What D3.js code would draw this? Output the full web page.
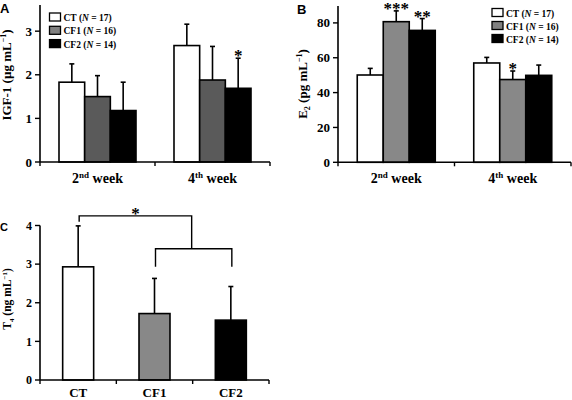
<!DOCTYPE html>
<html><head><meta charset="utf-8">
<script src="https://cdn.jsdelivr.net/npm/d3@7"></script>
<style>body{margin:0;background:#fff}svg{display:block}</style>
</head><body><svg id="c" width="572" height="400"></svg>
<script>
// ---- data ----
const weeks = ["2nd", "4th"];
const groups = ["CT", "CF1", "CF2"];
const groupN = [17, 16, 14];
// Panel A: IGF-1 (µg mL-1)
const igfMean = [[1.83, 1.50, 1.18], [2.67, 1.88, 1.69]];
const igfErr  = [[2.25, 1.98, 1.83], [3.16, 2.65, 2.38]];
const igfStars = [["", "", ""], ["", "", "*"]];
const igfTicks = [0, 1, 2, 3];
// Panel B: E2 (pg mL-1)
const e2Mean = [[50.1, 80.7, 75.7], [57.0, 47.5, 49.9]];
const e2Err  = [[53.9, 86.9, 82.5], [60.2, 52.4, 55.8]];
const e2Stars = [["", "***", "**"], ["", "*", ""]];
const e2Ticks = [0, 20, 40, 60, 80];
// Panel C: T4 (ng mL-1)
const t4Mean = [2.93, 1.72, 1.55];
const t4Err  = [3.99, 2.63, 2.42];
const t4Ticks = [0, 1, 2, 3, 4];
const t4Bracket = {top: 4.25, ctEnd: 4.1, mid: 3.4, lowEnd: 2.93, star: "*"};

const fillA = ["#ffffff", "#5a5a5a", "#000000"];
const fillB = ["#ffffff", "#888888", "#000000"];
const legendFill = ["#ffffff", "#808080", "#000000"];
const serif = "'Liberation Serif','Times New Roman',serif";
const sans = "'Liberation Sans',Arial,sans-serif";

const svg = d3.select("#c");

function yAxis(g, y, x0, ticks, fs) {
  g.append("line").attr("x1", x0).attr("x2", x0)
    .attr("y1", y.range()[0]).attr("y2", y.range()[1])
    .attr("stroke", "#000").attr("stroke-width", 1.6);
  ticks.forEach(t => {
    g.append("line").attr("x1", x0 - 5).attr("x2", x0).attr("y1", y(t)).attr("y2", y(t))
      .attr("stroke", "#000").attr("stroke-width", 1.4);
    g.append("text").attr("x", x0 - 8).attr("y", y(t)).attr("dy", "0.35em")
      .attr("text-anchor", "end").attr("font-family", serif).attr("font-weight", "bold")
      .attr("font-size", fs).text(t);
  });
}
function xAxisLine(g, y0, x1, x2, tickXs) {
  g.append("line").attr("x1", x1).attr("x2", x2).attr("y1", y0).attr("y2", y0)
    .attr("stroke", "#000").attr("stroke-width", 1.6);
  tickXs.forEach(x => g.append("line").attr("x1", x).attr("x2", x)
    .attr("y1", y0).attr("y2", y0 + 4).attr("stroke", "#000").attr("stroke-width", 1.4));
}
function errBar(g, cx, yTop, yBar) {
  g.append("line").attr("x1", cx).attr("x2", cx).attr("y1", yBar).attr("y2", yTop)
    .attr("stroke", "#000").attr("stroke-width", 1.6);
  g.append("line").attr("x1", cx - 2.5).attr("x2", cx + 2.5).attr("y1", yTop).attr("y2", yTop)
    .attr("stroke", "#000").attr("stroke-width", 1.6);
}
function legend(g, x, y, step) {
  groups.forEach((k, i) => {
    g.append("rect").attr("x", x).attr("y", y + i * step).attr("width", 11).attr("height", 8)
      .attr("fill", legendFill[i]).attr("stroke", "#000").attr("stroke-width", 1.3);
    const t = g.append("text").attr("x", x + 14).attr("y", y + i * step + 8)
      .attr("font-family", serif).attr("font-weight", "bold").attr("font-size", 9.5);
    t.append("tspan").text(k + " (");
    t.append("tspan").attr("font-style", "italic").text("N");
    t.append("tspan").text(" = " + groupN[i] + ")");
  });
}
function weekLabel(g, x, y, w) {
  const t = g.append("text").attr("x", x).attr("y", y).attr("text-anchor", "middle")
    .attr("font-family", serif).attr("font-weight", "bold").attr("font-size", 14);
  t.append("tspan").text(w.slice(0, 1));
  t.append("tspan").attr("font-size", 9).attr("dy", -5).text(w.slice(1));
  t.append("tspan").attr("dy", 5).text(" week");
}
function groupedPanel(g, opts) {
  const x0 = d3.scaleBand().domain(weeks).range([opts.xl, opts.xr]);
  const x1 = d3.scaleBand().domain(groups).range([0, x0.bandwidth()]).paddingOuter(0.74);
  const y = d3.scaleLinear().domain([0, opts.ymax]).range([opts.y0, opts.ytop]);
  weeks.forEach((w, wi) => {
    groups.forEach((k, gi) => {
      const bx = x0(w) + x1(k), cx = bx + x1.bandwidth() / 2;
      errBar(g, cx, y(opts.err[wi][gi]), y(opts.mean[wi][gi]));
      g.append("rect").attr("x", bx).attr("y", y(opts.mean[wi][gi]))
        .attr("width", x1.bandwidth()).attr("height", y(0) - y(opts.mean[wi][gi]))
        .attr("fill", opts.fill[gi]).attr("stroke", "#000").attr("stroke-width", 1.6);
      if (opts.stars[wi][gi]) g.append("text").attr("x", cx).attr("y", y(opts.err[wi][gi]) + 3)
        .attr("text-anchor", "middle").attr("font-family", serif).attr("font-weight", "bold")
        .attr("font-size", 17).text(opts.stars[wi][gi]);
    });
    weekLabel(g, x0(w) + x0.bandwidth() / 2, opts.y0 + 21, w);
  });
  xAxisLine(g, opts.y0, opts.xl, opts.xr, [opts.xl, x0(weeks[1]), opts.xr]);
  yAxis(g, y, opts.xl, opts.ticks, 13);
  return y;
}

// Panel A
const gA = svg.append("g");
groupedPanel(gA, {xl: 40, xr: 270, y0: 162, ytop: 5, ymax: 3.6, mean: igfMean, err: igfErr,
  stars: igfStars, fill: fillA, ticks: igfTicks});
legend(gA, 49.5, 13, 13.3);
{
  const t = gA.append("text").attr("transform", "translate(11,75) rotate(-90)").attr("text-anchor", "middle")
    .attr("font-family", serif).attr("font-weight", "bold").attr("font-size", 13);
  t.append("tspan").text("IGF-1 (µg mL");
  t.append("tspan").attr("font-size", 8).attr("dy", -5).text("−1");
  t.append("tspan").attr("dy", 5).text(")");
}
gA.append("text").attr("x", 0).attr("y", 13).attr("font-family", sans).attr("font-weight", "bold")
  .attr("font-size", 13).text("A");

// Panel B
const gB = svg.append("g");
groupedPanel(gB, {xl: 338, xr: 571, y0: 162.3, ytop: 6, ymax: 89.7, mean: e2Mean, err: e2Err,
  stars: e2Stars, fill: fillB, ticks: e2Ticks});
legend(gB, 492, 8.5, 13);
{
  const t = gB.append("text").attr("transform", "translate(307,84) rotate(-90)").attr("text-anchor", "middle")
    .attr("font-family", serif).attr("font-weight", "bold").attr("font-size", 13);
  t.append("tspan").text("E");
  t.append("tspan").attr("font-size", 8).attr("dy", 3).text("2");
  t.append("tspan").attr("dy", -3).text(" (pg mL");
  t.append("tspan").attr("font-size", 8).attr("dy", -5).text("−1");
  t.append("tspan").attr("dy", 5).text(")");
}
gB.append("text").attr("x", 297).attr("y", 14).attr("font-family", sans).attr("font-weight", "bold")
  .attr("font-size", 13).text("B");

// Panel C
const gC = svg.append("g");
{
  const x = d3.scaleBand().domain(groups).range([40, 269]).paddingInner(0.594).paddingOuter(0.297);
  const y = d3.scaleLinear().domain([0, 4]).range([380, 225.5]);
  groups.forEach((k, i) => {
    const cx = x(k) + x.bandwidth() / 2;
    errBar(gC, cx, y(t4Err[i]), y(t4Mean[i]));
    gC.append("rect").attr("x", x(k)).attr("y", y(t4Mean[i])).attr("width", x.bandwidth())
      .attr("height", y(0) - y(t4Mean[i])).attr("fill", fillB[i]).attr("stroke", "#000").attr("stroke-width", 1.6);
    gC.append("text").attr("x", cx).attr("y", 397).attr("text-anchor", "middle")
      .attr("font-family", serif).attr("font-weight", "bold").attr("font-size", 13).text(k);
  });
  const step = x.step();
  xAxisLine(gC, 380, 40, 269, [40, 40 + step, 40 + 2 * step, 269]);
  yAxis(gC, y, 40, t4Ticks, 12);
  const cCT = x("CT") + x.bandwidth() / 2 + 1;
  const c1 = x("CF1") + x.bandwidth() / 2 + 1;
  const c2 = x("CF2") + x.bandwidth() / 2 + 1;
  const cm = (c1 + c2) / 2 - 2;
  const path = d3.path();
  path.moveTo(cCT, y(t4Bracket.ctEnd)); path.lineTo(cCT, y(t4Bracket.top));
  path.lineTo(cm, y(t4Bracket.top)); path.lineTo(cm, y(t4Bracket.mid));
  path.moveTo(c1, y(t4Bracket.lowEnd)); path.lineTo(c1, y(t4Bracket.mid));
  path.lineTo(c2, y(t4Bracket.mid)); path.lineTo(c2, y(t4Bracket.lowEnd));
  gC.append("path").attr("d", path.toString()).attr("fill", "none").attr("stroke", "#000").attr("stroke-width", 1.4);
  gC.append("text").attr("x", (cCT + cm) / 2).attr("y", y(t4Bracket.top) + 3).attr("text-anchor", "middle")
    .attr("font-family", serif).attr("font-weight", "bold").attr("font-size", 17).text(t4Bracket.star);
  const t = gC.append("text").attr("transform", "translate(11,299) rotate(-90)").attr("text-anchor", "middle")
    .attr("font-family", serif).attr("font-weight", "bold").attr("font-size", 11.5);
  t.append("tspan").text("T");
  t.append("tspan").attr("font-size", 7).attr("dy", 3).text("4");
  t.append("tspan").attr("dy", -3).text(" (ng mL");
  t.append("tspan").attr("font-size", 7).attr("dy", -4).text("−1");
  t.append("tspan").attr("dy", 4).text(")");
}
gC.append("text").attr("x", 0).attr("y", 231).attr("font-family", sans).attr("font-weight", "bold")
  .attr("font-size", 11).text("C");
</script></body></html>
